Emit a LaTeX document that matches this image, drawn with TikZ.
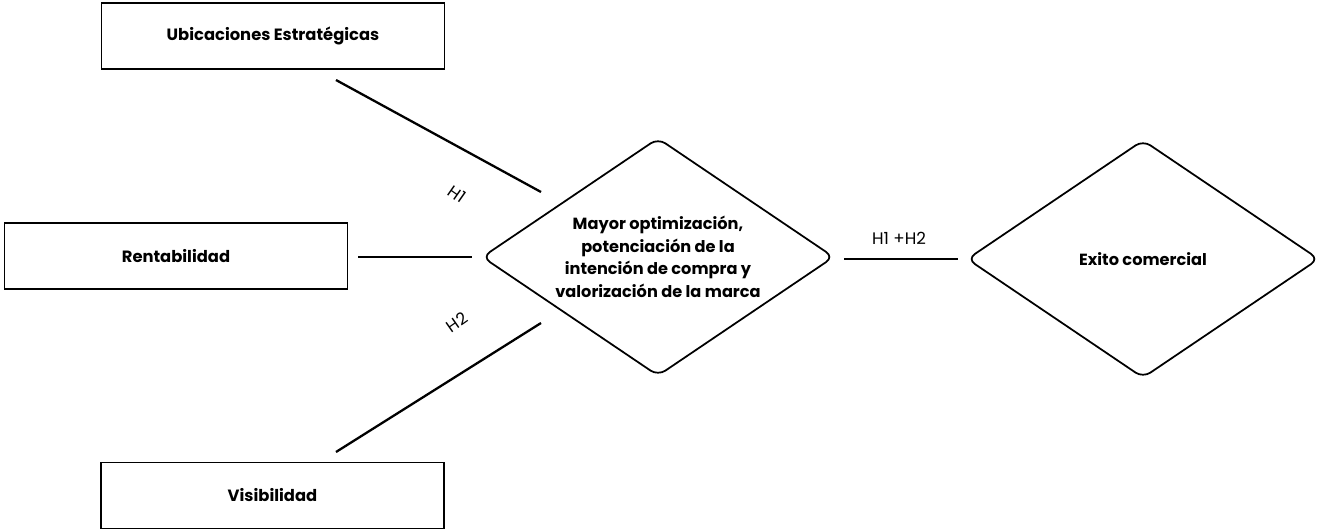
\documentclass[tikz,border=0pt]{standalone}
\usepackage{fontspec}
\setmainfont{Poppins}
\usetikzlibrary{shapes.geometric}
\usetikzlibrary{positioning}

\begin{document}
\begin{tikzpicture}[x=0.02cm,y=-0.02cm,
  caja/.style={draw,line width=1pt,minimum width=6.86cm,minimum height=1.32cm,font=\fontsize{9.3}{11}\selectfont\bfseries},
  rombo/.style={draw,diamond,aspect=1.47,line width=1pt,rounded corners=5pt,inner sep=0pt,minimum width=7.04cm,minimum height=4.76cm,align=center,font=\fontsize{9.2}{12.8}\selectfont\bfseries},
  linea/.style={line width=1.3pt},
  hip/.style={font=\fontsize{9.5}{11}\selectfont}]
\useasboundingbox (0,0) rectangle (1319,531);

\node[caja] (ubic) at (273,36) {Ubicaciones Estratégicas};
\node[caja] (rent) at (176,256) {Rentabilidad};
\node[caja] (visi) at (272.5,495.5) {Visibilidad};

\node[rombo] (mayor) at (658,257) {Mayor optimización,\\ potenciación de la\\ intención de compra y\\ valorización de la marca};
\node[rombo] (exito) at (1143,259) {Exito comercial};

\coordinate (ua) at (336,80);
\coordinate (ub) at (541,192);
\coordinate (ra) at (358,257);
\coordinate (rb) at (472,257);
\coordinate (va) at (336,452);
\coordinate (vb) at (541,323);
\coordinate (ma) at (844,259);
\coordinate (mb) at (958,259);

\draw[linea] (ua) -- (ub);
\draw[linea] (ra) -- (rb);
\draw[linea] (va) -- (vb);
\draw[linea] (ma) -- (mb);

\node[hip,rotate=-35,inner sep=0pt] (h1) at (457,194) {H1};
\node[hip,rotate=35,inner sep=0pt] (h2) at (457,322) {H2};
\node[hip] (h12) at (899,238) {H1 +H2};

\end{tikzpicture}
\end{document}
